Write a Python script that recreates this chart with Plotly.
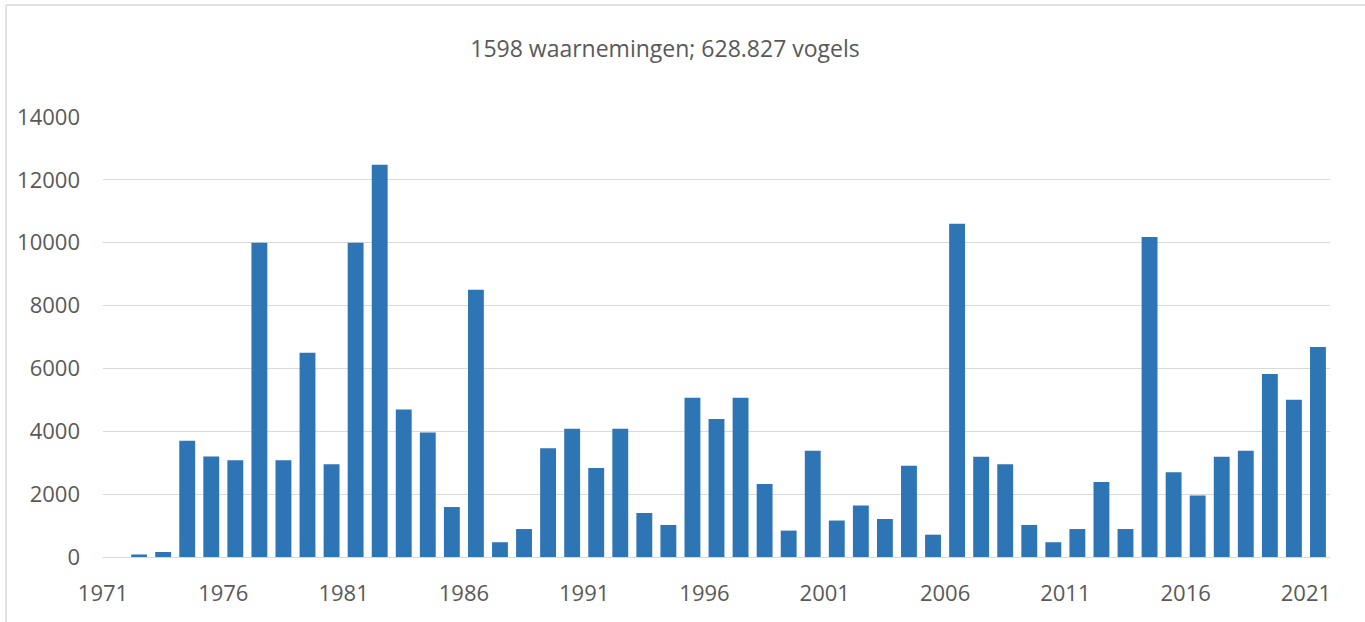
import plotly.graph_objects as go

years = list(range(1971, 2022))
values = [0, 80, 160, 3700, 3200, 3080, 10000, 3080, 6500, 2950,
          10000, 12480, 4690, 3960, 1590, 8500, 470, 890, 3460, 4080,
          2830, 4080, 1400, 1020, 5070, 4390, 5070, 2320, 840, 3380,
          1160, 1640, 1210, 2900, 710, 10600, 3190, 2950, 1020, 470,
          890, 2390, 890, 10180, 2700, 1960, 3190, 3380, 5820, 5000,
          6680]
label_years = [1971, 1976, 1981, 1986, 1991, 1996, 2001, 2006, 2011, 2016, 2021]
y_ticks = [0, 2000, 4000, 6000, 8000, 10000, 12000, 14000]
title_text = "1598 waarnemingen; 628.827 vogels"

W, H = 1365, 622
L, R, T, B = 103, 35, 117, 65
pw, ph = W - L - R, H - T - B

font_family = "Open Sans, Lato, sans-serif"
txt = "#595959"
grid = "#D9D9D9"

fig = go.Figure(go.Bar(
    x=years, y=values,
    marker=dict(color="#2E75B6", line=dict(width=0)),
    width=0.66,
    hoverinfo="x+y",
))

bx = (6 - L) / pw
by = (H - 5 - B) / ph
fig.update_layout(
    width=W, height=H,
    margin=dict(l=L, r=R, t=T, b=B, autoexpand=False),
    paper_bgcolor="white", plot_bgcolor="white",
    showlegend=False,
    font=dict(family=font_family, color=txt, size=22),
    title=dict(text=title_text, x=665 / W, xanchor="center", xref="container",
               y=1 - 49 / H, yanchor="middle", yref="container",
               font=dict(size=23, color=txt, family=font_family)),
    xaxis=dict(
        range=[years[0] - 0.5, years[-1] + 0.5],
        tickmode="array",
        tickvals=[y - 0.5 for y in label_years],
        ticktext=[str(y) for y in label_years],
        showgrid=False, zeroline=False,
        showline=True, linecolor=grid, linewidth=1,
        ticks="", ticklabelstandoff=17,
        tickfont=dict(size=22, color=txt),
        fixedrange=True,
    ),
    yaxis=dict(
        range=[0, 14000],
        tickmode="array", tickvals=y_ticks,
        ticktext=[str(v) for v in y_ticks],
        showgrid=True, gridcolor=grid, gridwidth=1,
        zeroline=False, showline=False,
        ticks="", ticklabelstandoff=22,
        tickfont=dict(size=22, color=txt),
        fixedrange=True,
    ),
    shapes=[
        dict(type="line", xref="paper", yref="paper",
             x0=bx, x1=bx, y0=-(B + 5) / ph, y1=by,
             line=dict(color=grid, width=1.5), layer="below"),
        dict(type="line", xref="paper", yref="paper",
             x0=bx, x1=(W + 5 - L) / pw, y0=by, y1=by,
             line=dict(color=grid, width=1.5), layer="below"),
    ],
)

fig.write_html("out.html", config={"displayModeBar": False},
               post_script="document.body.style.margin='0';")
